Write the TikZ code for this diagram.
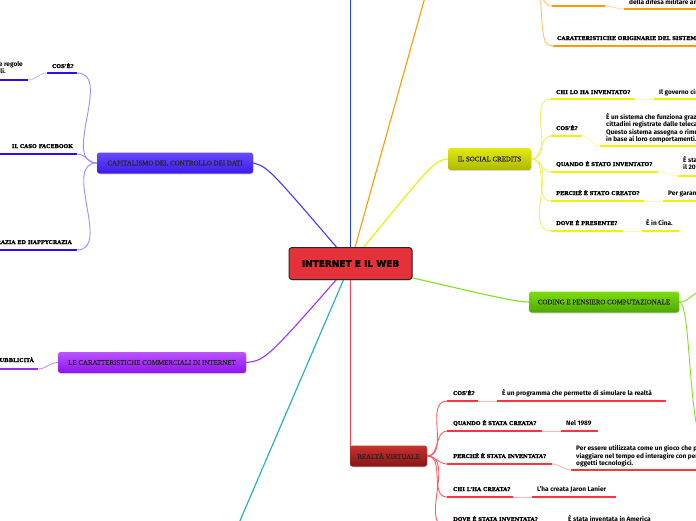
\documentclass[tikz,border=0pt]{standalone}
\usepackage{fontspec}
\setsansfont{Fira Sans}
\newfontfamily\labfont{DejaVu Serif Bold}[FakeBold=1.2]
\newfontfamily\topfont{Liberation Serif}[FakeBold=0.5]
\newfontfamily\cenfont{DejaVu Sans Bold}[FakeBold=1.5]
\usetikzlibrary{backgrounds,shadows}
\definecolor{cred}{HTML}{E5323A}
\definecolor{blueL}{HTML}{1F3BFF}
\definecolor{orng}{HTML}{FF9A00}
\definecolor{orngF}{HTML}{FFC266}
\definecolor{orngP}{HTML}{FFDDA8}
\definecolor{capL}{HTML}{4A35FF}
\definecolor{capT}{HTML}{6A4BFF}
\definecolor{capB}{HTML}{3A1BE8}
\definecolor{capU}{HTML}{2A10F0}
\definecolor{capF}{HTML}{9C8CFF}
\definecolor{capP}{HTML}{C8C0FF}
\definecolor{purL}{HTML}{A030FF}
\definecolor{purT}{HTML}{BB55FF}
\definecolor{purB}{HTML}{8E10F0}
\definecolor{purU}{HTML}{9A2BF0}
\definecolor{purF}{HTML}{C98AFF}
\definecolor{yelL}{HTML}{E6F000}
\definecolor{yelT}{HTML}{E2EA10}
\definecolor{yelB}{HTML}{AEB800}
\definecolor{yelU}{HTML}{F2F200}
\definecolor{yelF}{HTML}{F0F060}
\definecolor{yelP}{HTML}{F8F8B0}
\definecolor{grnL}{HTML}{80E020}
\definecolor{grnT}{HTML}{7EDD10}
\definecolor{grnB}{HTML}{4EA800}
\definecolor{redL}{HTML}{FF3B47}
\definecolor{redT}{HTML}{C8322E}
\definecolor{redB}{HTML}{841616}
\definecolor{redU}{HTML}{FF3340}
\definecolor{redF}{HTML}{FF5A64}
\definecolor{redP}{HTML}{FFB3B8}
\definecolor{tealL}{HTML}{18B2B2}
\begin{document}
\begin{tikzpicture}[x=1pt,y=-1pt,
  lab/.style={font=\labfont\fontsize{5.3}{6}\selectfont,anchor=base west,inner sep=0pt},
  labr/.style={lab,anchor=base east},
  ans/.style={font=\sffamily\bfseries\fontsize{6.5}{7.3}\selectfont,anchor=base west,inner sep=0pt,align=left},
  ansml/.style={ans,anchor=north west},
  ansr/.style={ans,anchor=base east},
  topic/.style={rounded corners=2.5pt,inner sep=0pt,font=\topfont\fontsize{6.9}{8}\selectfont,text=black!85,
    drop shadow={opacity=0.25,shadow xshift=0.8pt,shadow yshift=-1pt}},
  centre/.style={draw=black!85,line width=1pt,fill=cred,rounded corners=3pt,minimum width=123pt,minimum height=32pt,
    font=\cenfont\fontsize{9}{11}\selectfont,inner sep=0pt,
    drop shadow={opacity=0.25,shadow xshift=0.8pt,shadow yshift=-1pt}},
  ul/.style={line width=2.6pt},
  fan/.style={line width=0.9pt},
  pale/.style={line width=0.9pt},
  main/.style={line width=1.1pt}
]
\useasboundingbox (0,0) rectangle (696,520);
\clip (0,0) rectangle (696,520);

% ---------- main nodes ----------
\node[centre] (web) at (350.5,263.5) {INTERNET E IL WEB};
\node[topic,minimum width=156pt,minimum height=21pt,top color=capT,bottom color=capB] (cap) at (175,163) {CAPITALISMO DEL CONTROLLO DEI DATI};
\node[topic,minimum width=188pt,minimum height=21pt,top color=purT,bottom color=purB] (comm) at (152,362.5) {LE CARATTERISTICHE COMMERCIALI DI INTERNET};
\node[topic,minimum width=83pt,minimum height=22pt,top color=yelT,bottom color=yelB] (sc) at (489.5,159) {IL SOCIAL CREDITS};
\node[topic,minimum width=150pt,minimum height=21pt,top color=grnT,bottom color=grnB] (code) at (604,302) {CODING E PENSIERO COMPUTAZIONALE};
\node[topic,minimum width=77pt,minimum height=21pt,top color=redT,bottom color=redB] (vr) at (388.5,456) {REALTÀ VIRTUALE};

\coordinate (topblue) at (350.5,-10);
\coordinate (toporange) at (427,-10);
\coordinate (botteal) at (236,530);
\coordinate (vrin) at (350.5,452);

\begin{pgfonlayer}{background}
\draw[main,blueL] (web.center) -- (topblue);
\draw[main,orng] (web.center) -- (toporange);
\draw[main,capL] (web.center) .. controls (268,167) .. (cap.east);
\draw[main,yelL] (web.center) .. controls (434,161) .. (sc.west);
\draw[main,grnL] (web.center) .. controls (512,301) .. (code.west);
\draw[main,redL] (web.center) -- (vrin);
\draw[main,tealL] (web.center) -- (botteal);
\draw[main,purL] (web.center) .. controls (266,360) .. (comm.east);
\end{pgfonlayer}

% ---------- orange branch (top) ----------
\coordinate (orn) at (540,-12);
\coordinate (o1a) at (552,6); \coordinate (o1b) at (605,6);
\coordinate (o1c) at (624,9); \coordinate (o1d) at (700,9);
\node[ans] (o1t) at (629,4) {della difesa militare americana.};
\draw[ul,orng] (o1a) -- (o1b); \draw[ul,orng] (o1c) -- (o1d);
\draw[pale,orngP] (o1b) to[out=0,in=180] (o1c);
\draw[fan,orngF] (orn) to[out=-75,in=180] (o1a);
\coordinate (o2a) at (553,46); \coordinate (o2b) at (700,46);
\node[lab] (o2q) at (557,40) {CARATTERISTICHE ORIGINARIE DEL SISTEMA};
\draw[ul,orng] (o2a) -- (o2b);
\draw[fan,orngF] (orn) .. controls (543,44) .. (o2a);

% ---------- social credits ----------
\node[lab] (y1q) at (556,94) {CHI LO HA INVENTATO?};
\coordinate (y1a) at (551,99); \coordinate (y1b) at (635,99);
\coordinate (y1c) at (654,99); \coordinate (y1d) at (700,99);
\node[ans] (y1t) at (659,94) {Il governo cinese.};
\draw[ul,yelU] (y1a) -- (y1b); \draw[ul,yelU] (y1c) -- (y1d);
\draw[pale,yelP] (y1b) -- (y1c);
\draw[fan,yelF] (sc.east) to[out=0,in=180] (y1a);

\node[lab] (y2q) at (556,130) {COS'È?};
\coordinate (y2a) at (551,136); \coordinate (y2b) at (582,136);
\coordinate (y2c) at (600,146); \coordinate (y2d) at (700,146);
\node[ansml] (y2t) at (606,113) {È un sistema che  funziona grazie ai dati dei\\cittadini registrate dalle telecamere.\\Questo sistema assegna o rimuove punti\\in base ai loro comportamenti.};
\draw[ul,yelU] (y2a) -- (y2b); \draw[ul,yelU] (y2c) -- (y2d);
\draw[pale,yelP] (y2b) to[out=0,in=180] (y2c);
\draw[fan,yelF] (sc.east) to[out=0,in=180] (y2a);

\node[lab] (y3q) at (556,166) {QUANDO È STATO INVENTATO?};
\coordinate (y3a) at (551,172); \coordinate (y3b) at (658,172);
\coordinate (y3c) at (678,176); \coordinate (y3d) at (700,176);
\node[ansml] (y3t) at (683,156) {È stato inventato nel\\il 2014.};
\draw[ul,yelU] (y3a) -- (y3b); \draw[ul,yelU] (y3c) -- (y3d);
\draw[pale,yelP] (y3b) to[out=0,in=180] (y3c);
\draw[fan,yelF] (sc.east) to[out=0,in=180] (y3a);

\node[lab] (y4q) at (556,195) {PERCHÉ È STATO CREATO?};
\coordinate (y4a) at (551,201); \coordinate (y4b) at (644,201);
\coordinate (y4c) at (663,201); \coordinate (y4d) at (700,201);
\node[ans] (y4t) at (668,195) {Per garantire la sicurezza.};
\draw[ul,yelU] (y4a) -- (y4b); \draw[ul,yelU] (y4c) -- (y4d);
\draw[pale,yelP] (y4b) -- (y4c);
\draw[fan,yelF] (sc.east) to[out=0,in=180] (y4a);

\node[lab] (y5q) at (556,225) {DOVE È PRESENTE?};
\coordinate (y5a) at (551,231); \coordinate (y5b) at (623,231);
\coordinate (y5c) at (642,231); \coordinate (y5d) at (679,231);
\node[ans] (y5t) at (646,225) {È in Cina.};
\draw[ul,yelU] (y5a) -- (y5b); \draw[ul,yelU] (y5c) -- (y5d);
\draw[pale,yelP] (y5b) -- (y5c);
\draw[fan,yelF] (sc.east) to[out=0,in=180] (y5a);

% ---------- coding ----------
\coordinate (g1) at (702,292);
\coordinate (g2) at (700,440);
\draw[fan,grnL] (code.east) to[out=0,in=180] (g1);
\draw[fan,grnL] (code.east) .. controls (690,302) and (688,400) .. (g2);

% ---------- realta virtuale ----------
\node[lab] (r1q) at (453,395) {COS'È?};
\coordinate (r1a) at (447,401); \coordinate (r1b) at (478,401);
\coordinate (r1c) at (497,401); \coordinate (r1d) at (666,401);
\node[ans] (r1t) at (502,395) {È un programma che permette di simulare la realtà};
\draw[ul,redU] (r1a) -- (r1b); \draw[ul,redU] (r1c) -- (r1d);
\draw[pale,redP] (r1b) -- (r1c);
\draw[fan,redF] (vr.east) to[out=0,in=180] (r1a);

\node[lab] (r2q) at (453,425) {QUANDO È STATA CREATA?};
\coordinate (r2a) at (447,431); \coordinate (r2b) at (542,431);
\coordinate (r2c) at (561,431); \coordinate (r2d) at (598,431);
\node[ans] (r2t) at (566,425) {Nel 1989};
\draw[ul,redU] (r2a) -- (r2b); \draw[ul,redU] (r2c) -- (r2d);
\draw[pale,redP] (r2b) -- (r2c);
\draw[fan,redF] (vr.east) to[out=0,in=180] (r2a);

\node[lab] (r3q) at (453,458) {PERCHÉ È STATA INVENTATA?};
\coordinate (r3a) at (447,464); \coordinate (r3b) at (552,464);
\coordinate (r3c) at (571,470); \coordinate (r3d) at (700,470);
\node[ansml] (r3t) at (576,445.5) {Per essere utilizzata come un gioco che permette di\\viaggiare nel tempo ed interagire con persone e\\oggetti tecnologici.};
\draw[ul,redU] (r3a) -- (r3b); \draw[ul,redU] (r3c) -- (r3d);
\draw[pale,redP] (r3b) to[out=0,in=180] (r3c);
\draw[fan,redF] (vr.east) to[out=0,in=180] (r3a);

\node[lab] (r4q) at (453,491) {CHI L'HA CREATA?};
\coordinate (r4a) at (447,497); \coordinate (r4b) at (513,497);
\coordinate (r4c) at (532,497); \coordinate (r4d) at (616,497);
\node[ans] (r4t) at (537,491) {L'ha creata Jaron Lanier};
\draw[ul,redU] (r4a) -- (r4b); \draw[ul,redU] (r4c) -- (r4d);
\draw[pale,redP] (r4b) -- (r4c);
\draw[fan,redF] (vr.east) to[out=0,in=180] (r4a);

\node[lab] (r5q) at (453,521) {DOVE È STATA INVENTATA?};
\coordinate (r5a) at (447,527); \coordinate (r5b) at (552,527);
\node[ans] (r5t) at (568,521) {È stata inventata in America};
\draw[ul,redU] (r5a) -- (r5b);
\draw[fan,redF] (vr.east) to[out=0,in=180] (r5a);

% ---------- capitalismo ----------
\node[lab] (c1q) at (52,68) {COS'È?};
\coordinate (c1a) at (77,73); \coordinate (c1b) at (47,73);
\coordinate (c1c) at (28,80); \coordinate (c1d) at (-5,80);
\node[ansr] (c1t) at (23,66) {Un sistema economico che impone le regole};
\node[ansr] (c1u) at (6,73) {basato sui dati personali.};
\draw[ul,capU] (c1a) -- (c1b); \draw[ul,capU] (c1c) -- (c1d);
\draw[pale,capP] (c1b) to[out=180,in=0] (c1c);
\draw[fan,capF] (cap.west) to[out=180,in=0] (c1a);

\node[labr] (c2q) at (73,148) {IL CASO FACEBOOK};
\coordinate (c2a) at (77,154); \coordinate (c2b) at (-5,154);
\draw[ul,capU] (c2a) -- (c2b);
\draw[fan,capF] (cap.west) to[out=180,in=0] (c2a);

\node[labr] (c3q) at (72,244) {DEMOCRAZIA ED HAPPYCRAZIA};
\coordinate (c3a) at (77,250); \coordinate (c3b) at (-5,250);
\draw[ul,capU] (c3a) -- (c3b);
\draw[fan,capF] (cap.west) to[out=180,in=0] (c3a);

% ---------- caratteristiche commerciali ----------
\node[labr] (p1q) at (34,362) {LA PUBBLICITÀ};
\coordinate (p1a) at (38,369); \coordinate (p1b) at (-5,369);
\draw[ul,purU] (p1a) -- (p1b);
\draw[fan,purF] (comm.west) to[out=180,in=0] (p1a);
\end{tikzpicture}
\end{document}
